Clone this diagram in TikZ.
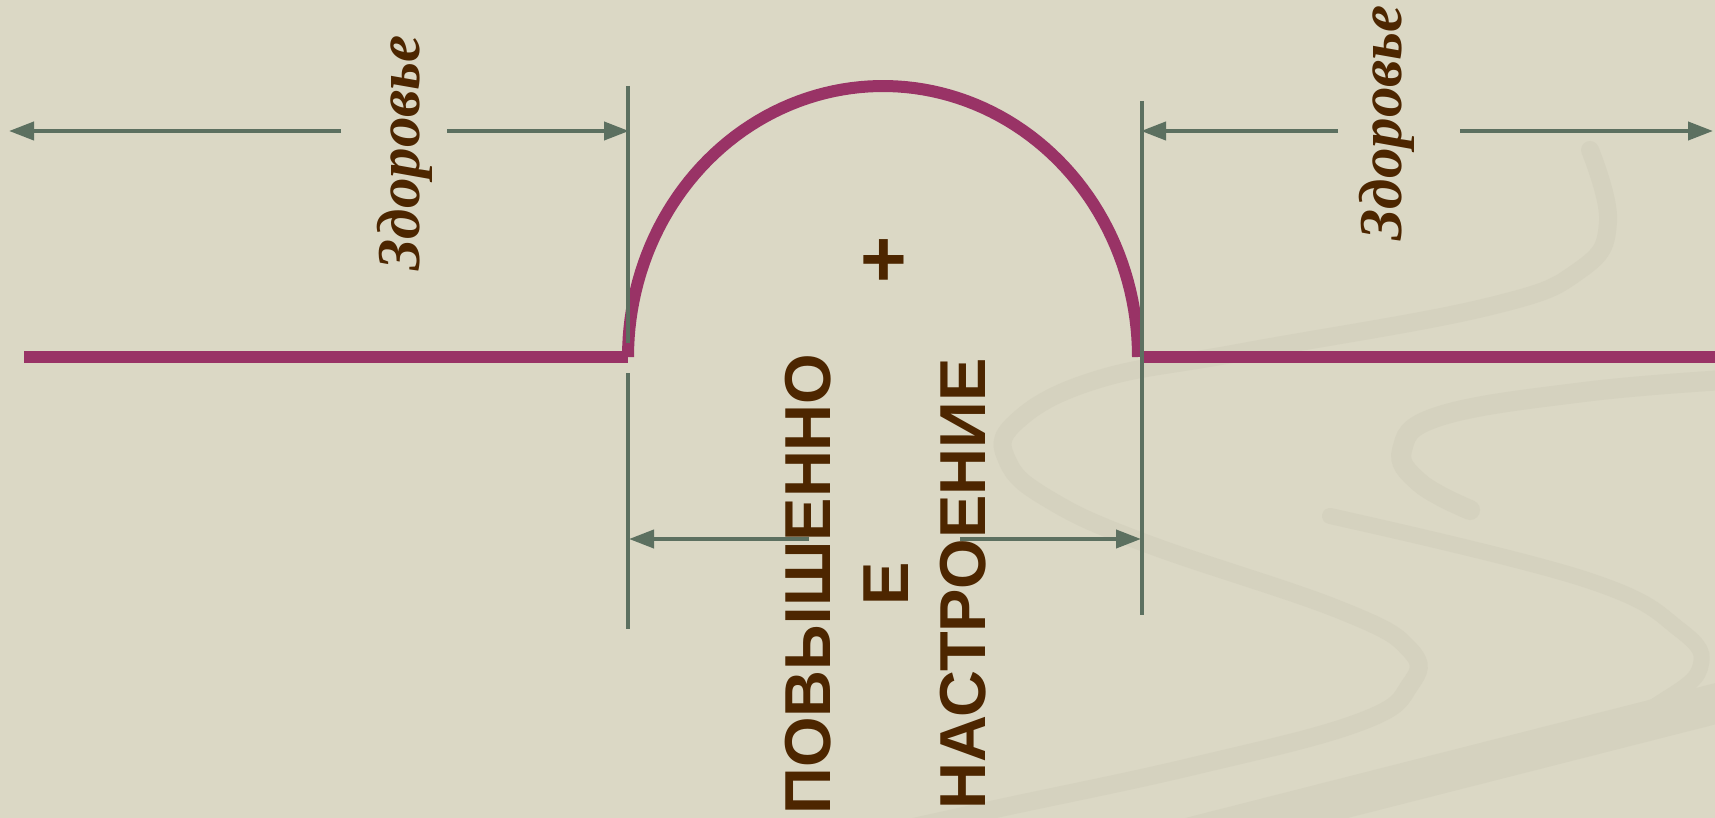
\documentclass[tikz,border=0pt]{standalone}
\usepackage{fontspec}
\setmainfont{Liberation Serif}
\setsansfont{Liberation Sans}
\usetikzlibrary{arrows.meta}
\definecolor{bg}{HTML}{DBD8C5}
\definecolor{swirlc}{HTML}{D5D2BF}
\definecolor{mag}{HTML}{993366}
\definecolor{dimc}{HTML}{5C7060}
\definecolor{txt}{HTML}{4D2600}
\begin{document}
\begin{tikzpicture}[x=1pt,y=-1pt,
  dimline/.style={draw=dimc,line width=4pt},
  dimarrow/.style={dimline,-{Triangle[length=25pt,width=18pt]}},
  curve/.style={draw=mag,line width=12pt},
  swirl/.style={draw=swirlc,line width=#1,line cap=round},
  ztext/.style={text=txt,inner sep=0pt,rotate=90,anchor=base,
    font=\fontsize{61}{73}\selectfont\bfseries\itshape},
  btext/.style={text=txt,inner sep=0pt,rotate=90,align=center,
    font=\fontsize{65}{77.5}\selectfont\sffamily\bfseries}]
\fill[bg] (0,0) rectangle (1715,818);
\useasboundingbox (0,0) rectangle (1715,818);
% background swirls
\begin{scope}
\clip (0,0) rectangle (1715,818);
\draw[swirl=18pt] plot[smooth,tension=0.7] coordinates {(1590,150) (1608,222) (1580,270) (1487,307) (1243,352) (1096,380) (1015,423) (1008,462) (1050,500) (1145,543) (1340,610) (1410,650) (1410,685) (1360,722) (1194,766) (1000,808) (900,830)};
\draw[swirl=20pt] plot[smooth,tension=0.7] coordinates {(1725,380) (1584,392) (1440,416) (1402,450) (1420,483) (1470,510)};
\draw[swirl=16pt] plot[smooth,tension=0.7] coordinates {(1330,516) (1584,579) (1680,630) (1700,668) (1660,703) (1610,728)};
\draw[swirl=40pt] (1180,840) -- (1730,700);
\end{scope}
% coordinates
\coordinate (L0) at (24,357);
\coordinate (LA) at (628,357);
\coordinate (R1) at (1142,357);
\coordinate (R0) at (1715,357);
\coordinate (vl1) at (628,86);
\coordinate (vl2) at (628,343);
\coordinate (vl3) at (628,373);
\coordinate (vl4) at (628,629);
\coordinate (vr1) at (1142,101);
\coordinate (vr2) at (1142,615);
\coordinate (tl0) at (9,131);
\coordinate (tl1) at (341,131);
\coordinate (tl2) at (447,131);
\coordinate (tl3) at (629,131);
\coordinate (tr0) at (1141,131);
\coordinate (tr1) at (1338,131);
\coordinate (tr2) at (1460,131);
\coordinate (tr3) at (1713,131);
\coordinate (bl0) at (629,539);
\coordinate (bl1) at (809,539);
\coordinate (br1) at (960,539);
\coordinate (br0) at (1141,539);
% magenta curve
\draw[curve] (L0) -- (LA);
\draw[curve] plot[domain=180:0,samples=90] ({883+255*cos(\x)},{357-271*sin(\x)});
\draw[curve] (R1) -- (R0);
% dimension lines
\draw[dimline] (vl1) -- (vl2);
\draw[dimline] (vl3) -- (vl4);
\draw[dimline] (vr1) -- (vr2);
\draw[dimarrow] (tl1) -- (tl0);
\draw[dimarrow] (tl2) -- (tl3);
\draw[dimarrow] (tr1) -- (tr0);
\draw[dimarrow] (tr2) -- (tr3);
\draw[dimarrow] (bl1) -- (bl0);
\draw[dimarrow] (br1) -- (br0);
% texts
\node[ztext] (z1) at (419,153) {Здоровье};
\node[ztext] (z2) at (1401,123) {Здоровье};
\node[text=txt,inner sep=0pt,font=\fontsize{80}{96}\selectfont\sffamily\bfseries] (plus) at (884,263) {+};
\node[btext] (mood) at (886,584) {ПОВЫШЕННО\\Е\\НАСТРОЕНИЕ};
\end{tikzpicture}
\end{document}
